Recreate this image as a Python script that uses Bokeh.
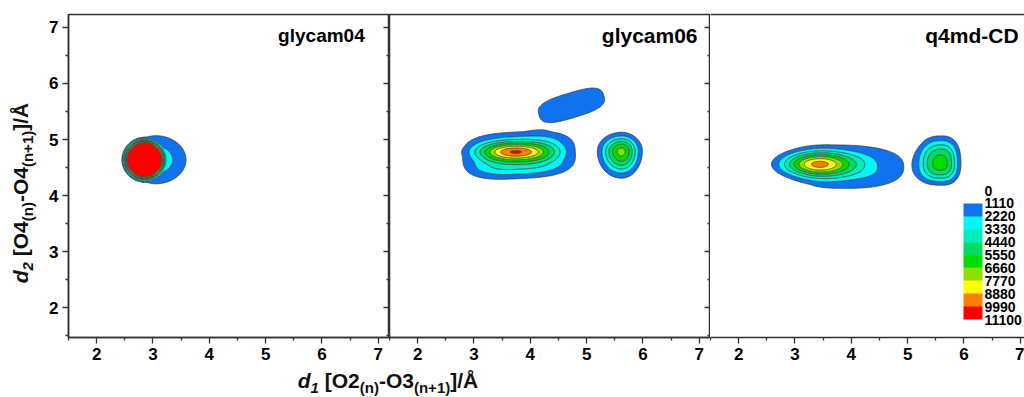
import numpy as np
from bokeh.plotting import figure
from bokeh.layouts import row, column
from bokeh.models import (Range1d, LinearAxis, Label, ColorBar,
                          AllLabels, LinearColorMapper, FixedTicker, CustomJSTickFormatter, Div)
from bokeh.embed import file_html
from bokeh.resources import INLINE

# ---------------- data ----------------
titles = ["glycam04", "glycam06", "q4md-CD"]
levels = [0, 1110, 2220, 3330, 4440, 5550, 6660, 7770, 8880, 9990, 11100]
level_colors = ["#FFFFFF", "#0F72EE", "#00F7F7", "#00EDBA", "#00DC62",
                "#00DC00", "#8CE000", "#FFFF00", "#FF8000", "#FF0000"]
x_ticks = [2, 3, 4, 5, 6, 7]
y_ticks = [2, 3, 4, 5, 6, 7]

# population peaks read from the maps: amplitude, centre, left/right and lower/upper
# widths, tilt (deg) and profile exponent
g04_amp = [50000, 3000]
g04_cx = [2.84, 3.05]
g04_cy = [4.64, 4.64]
g04_sxl = [0.17, 0.35]
g04_sxr = [0.17, 0.40]
g04_syd = [0.17, 0.32]
g04_syu = [0.17, 0.32]
g04_tilt = [0, 0]
g04_pow = [2, 2]

g06_amp = [5800, 4400, 2100, 7000]
g06_cx = [3.74, 3.80, 4.73, 5.62]
g06_cy = [4.78, 4.72, 5.61, 4.79]
g06_sxl = [0.42, 0.745, 0.57, 0.243]
g06_sxr = [0.42, 0.745, 0.57, 0.209]
g06_syd = [0.11, 0.31, 0.21, 0.271]
g06_syu = [0.11, 0.31, 0.21, 0.192]
g06_tilt = [0, 3, 17, 0]
g06_pow = [2, 3, 3, 2]

q4_amp = [6800, 2900, 6000]
q4_cx = [3.38, 3.75, 5.60]
q4_cy = [4.56, 4.53, 4.575]
q4_sxl = [0.45, 0.60, 0.29]
q4_sxr = [0.45, 0.947, 0.226]
q4_syd = [0.15, 0.32, 0.255]
q4_syu = [0.15, 0.30, 0.32]
q4_tilt = [0, -1, 0]
q4_pow = [2, 2.5, 2.5]

X_LO, X_HI, Y_LO, Y_HI = 1.5, 7.2, 1.47, 7.23
CUT = 0.06
xs = np.linspace(X_LO, X_HI, 381)
ys = np.linspace(Y_LO, Y_HI, 385)


def density(amp, cx, cy, sxl, sxr, syd, syu, tilt, pw):
    X, Y = np.meshgrid(xs, ys)
    Z = np.zeros_like(X)
    for a, x0, y0, l, r, d, u, t, k in zip(amp, cx, cy, sxl, sxr, syd, syu, tilt, pw):
        th = np.deg2rad(t)
        dx, dy = X - x0, Y - y0
        uu = dx * np.cos(th) + dy * np.sin(th)
        vv = -dx * np.sin(th) + dy * np.cos(th)
        su = np.where(uu < 0, l, r)
        sv = np.where(vv < 0, d, u)
        g = np.exp(-0.5 * (np.abs(uu / su) ** k + np.abs(vv / sv) ** k))
        Z += a * np.clip(g - CUT, 0, None) / (1 - CUT)
    return Z


fields = [
    density(g04_amp, g04_cx, g04_cy, g04_sxl, g04_sxr, g04_syd, g04_syu, g04_tilt, g04_pow),
    density(g06_amp, g06_cx, g06_cy, g06_sxl, g06_sxr, g06_syd, g06_syu, g06_tilt, g06_pow),
    density(q4_amp, q4_cx, q4_cy, q4_sxl, q4_sxr, q4_syd, q4_syu, q4_tilt, q4_pow),
]

# ---------------- styling ----------------
FONT = "Liberation Sans"
INK = "#333333"
TXT = "#000000"
FRAME_W = 321
FRAME_H = 323
PX_PER_X = FRAME_W / (X_HI - X_LO)


def ticker(ticks):
    return FixedTicker(ticks=ticks, minor_ticks=[t + 0.5 for t in [ticks[0] - 1] + ticks])


def style_axis(ax, ticks):
    ax.ticker = ticker(ticks)
    ax.axis_line_color = INK
    ax.axis_line_width = 1.5
    ax.major_tick_line_color = INK
    ax.minor_tick_line_color = INK
    ax.major_tick_line_width = 1.3
    ax.minor_tick_line_width = 1.3
    ax.major_tick_out = 6
    ax.major_tick_in = 0
    ax.minor_tick_out = 3
    ax.minor_tick_in = 0
    ax.major_label_text_font = FONT
    ax.major_label_text_font_style = "bold"
    ax.major_label_text_font_size = "17px"
    ax.major_label_text_color = TXT
    ax.major_label_standoff = 4


def blank_axis(inward, ticks):
    ax = LinearAxis(ticker=ticker(ticks), axis_line_color=None,
                    formatter=CustomJSTickFormatter(code="return ''"),
                    major_label_standoff=0, major_label_text_font_size="0px")
    if inward:
        ax.major_tick_in, ax.major_tick_out = 6, 0
        ax.minor_tick_in, ax.minor_tick_out = 3, 0
        ax.major_tick_line_color = INK
        ax.minor_tick_line_color = INK
        ax.major_tick_line_width = 1.3
        ax.minor_tick_line_width = 1.3
    else:
        ax.major_tick_line_color = None
        ax.minor_tick_line_color = None
        ax.axis_line_color = INK
        ax.axis_line_width = 1.5
    return ax


title_x = [6.76, 6.97, 6.97]
title_size = ["19px", "21px", "21px"]
frame_widths = [FRAME_W, FRAME_W, 314]
left_borders = [28, 0, 0]

figs = []
for i in range(3):
    fw = frame_widths[i]
    x_end = X_LO + fw / PX_PER_X
    p = figure(frame_width=fw, frame_height=FRAME_H,
               x_range=Range1d(X_LO, x_end), y_range=Range1d(Y_LO, Y_HI),
               output_backend="svg", toolbar_location=None,
               min_border_left=left_borders[i], min_border_right=0,
               min_border_top=14, min_border_bottom=33,
               y_axis_location="left" if i == 0 else None,
               background_fill_color="white", border_fill_color=None)
    p.xgrid.visible = False
    p.ygrid.visible = False
    style_axis(p.xaxis[0], x_ticks)
    if i == 0:
        style_axis(p.yaxis[0], y_ticks)
    if i < 2:
        p.outline_line_color = INK
        p.outline_line_width = 1.5
        p.add_layout(blank_axis(True, y_ticks), "right")
    else:
        p.outline_line_color = None
        p.add_layout(blank_axis(False, x_ticks), "above")

    Z = fields[i]
    lv = levels[1:-1] + [max(levels[-1], float(Z.max()) * 1.001)]
    p.contour(xs, ys, Z, lv, fill_color=level_colors[1:],
              line_color="#3a3a3a", line_width=0.8)

    p.add_layout(Label(x=title_x[i], y=6.86, text=titles[i], text_align="right",
                       text_baseline="middle", text_font=FONT, text_font_style="bold",
                       text_font_size=title_size[i], text_color=TXT))
    figs.append(p)

# colour key (reads 0 at the top, 11100 at the bottom)
top = levels[-1]
mapper = LinearColorMapper(palette=level_colors[::-1], low=0, high=top)
cb = ColorBar(color_mapper=mapper, orientation="vertical",
              ticker=FixedTicker(ticks=[top - v for v in levels]),
              formatter=CustomJSTickFormatter(code="return String(%d - tick)" % top),
              major_label_policy=AllLabels(),
              width=19, height=129, location=(253, 18), padding=0, margin=0,
              major_tick_line_color=None, minor_tick_line_color=None,
              bar_line_color=None, border_line_color=None,
              background_fill_color=None, background_fill_alpha=0,
              major_label_text_font=FONT, major_label_text_font_style="bold",
              major_label_text_font_size="14px", major_label_text_color=TXT,
              label_standoff=2)
figs[2].add_layout(cb)

SUB = "font-size:15px;vertical-align:-5px;"
ylab = ('<div style="position:relative;width:40px;height:370px;">'
        '<span style="position:absolute;left:22px;top:193px;'
        'transform:translate(-50%,-50%) rotate(-90deg);white-space:nowrap;'
        "font-family:'Liberation Sans';font-weight:bold;font-size:21px;color:#111;\">"
        '<i>d</i><sub style="' + SUB + 'font-style:italic;">2</sub> [O4<sub style="' + SUB + '">(n)</sub>'
        '-O4<sub style="' + SUB + '">(n+1)</sub>]/Å</span></div>')
xlab = ('<div style="position:relative;width:1024px;height:27px;">'
        '<span style="position:absolute;left:388px;top:12px;'
        'transform:translate(-50%,-50%);white-space:nowrap;'
        "font-family:'Liberation Sans';font-weight:bold;font-size:21px;color:#111;\">"
        '<i>d</i><sub style="' + SUB + 'font-style:italic;">1</sub> [O2<sub style="' + SUB + '">(n)</sub>'
        '-O3<sub style="' + SUB + '">(n+1)</sub>]/Å</span></div>')

ydiv = Div(text=ylab, width=40, height=370, margin=0)
xdiv = Div(text=xlab, width=1024, height=27, margin=0)

layout = column(row(ydiv, *figs, spacing=0), xdiv, spacing=0)

open("out.html", "w").write(file_html(layout, INLINE))
